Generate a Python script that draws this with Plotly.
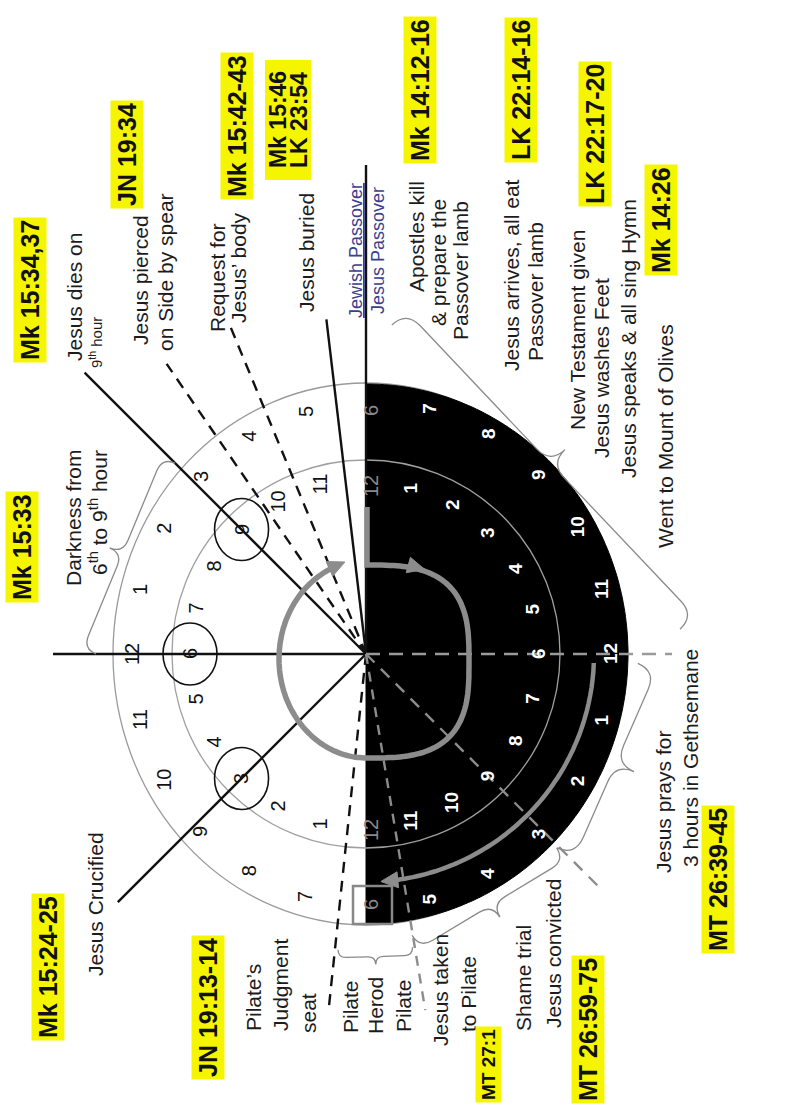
import numpy as np
import plotly.graph_objects as go

# ---------------- data ----------------
# hour numbers on each half ring, listed from the top of the dial (step 0) to its bottom (step 12)
day_inner_hours = [12, 11, 10, 9, 8, 7, 6, 5, 4, 3, 2, 1, 12]
day_outer_hours = [6, 5, 4, 3, 2, 1, 12, 11, 10, 9, 8, 7, 6]
night_inner_hours = [12, 1, 2, 3, 4, 5, 6, 7, 8, 9, 10, 11, 12]
night_outer_hours = [6, 7, 8, 9, 10, 11, 12, 1, 2, 3, 4, 5, 6]
circled_day_steps = [3, 6, 9]          # 9th, 6th and 3rd hour (inner day ring)

# event rays: side of dial (L = day, R = night) and position in hour steps from the top
ray_names = ["dies", "pierced", "request", "buried", "passover", "darkness",
             "crucified", "judgment", "taken", "gethsemane", "prays"]
ray_sides = ["L", "L", "L", "L", "L", "L", "L", "L", "R", "R", "R"]
ray_steps = [3, 2.3, 1.5, 0.45, 0, 6, 9, 11.6, 11.37, 6, 9]

# braces: (side of start, step of start, side of end, step of end)
brace_spans = [("L", 6, "L", 3), ("R", 0.3, "R", 5.7), ("R", 6.13, "R", 9.03),
               ("R", 9.03, "R", 11.38), ("L", 11.64, "R", 11.4)]

caption_lines = ["Jesus dies on", "9<sup>th</sup> hour", "Jesus pierced", "on Side by spear",
                 "Request for", "Jesus’ body", "Jesus buried", "Apostles kill",
                 "& prepare the", "Passover lamb", "Jesus arrives, all eat", "Passover lamb",
                 "New Testament given", "Jesus washes Feet", "Jesus speaks & all sing Hymn",
                 "Went to Mount of Olives", "Darkness from", "6<sup>th</sup> to 9<sup>th</sup> hour",
                 "Jesus Crucified", "Pilate’s", "Judgment", "seat", "Pilate", "Herod", "Pilate",
                 "Jesus taken", "to Pilate", "Shame trial", "Jesus convicted",
                 "Jesus prays for", "3 hours in Gethsemane"]
passover_lines = ["<u>Jewish Passover</u>", "Jesus Passover"]
refs = ["Mk 15:34,37", "JN 19:34", "Mk 15:42-43", "Mk 15:46", "LK 23:54", "Mk 14:12-16",
        "LK 22:14-16", "LK 22:17-20", "Mk 14:26", "Mk 15:33", "Mk 15:24-25", "JN 19:13-14",
        "MT 27:1", "MT 26:59-75", "MT 26:39-45"]

# ---------------- layout / style ----------------
W, H = 791, 1120
cx, cy = 366, 654
FONT = "Liberation Sans, Arial, sans-serif"

ray_len = [398, 352, 356, 337, 489, 313, 351, 361, 361, 306, 332]
ray_style = [("solid", "#111"), ("11px,8px", "#111"), ("11px,8px", "#111"), ("solid", "#111"),
             ("solid", "#111"), ("solid", "#111"), ("solid", "#111"), ("11px,8px", "#111"),
             ("10px,8px", "#8c8c8c"), ("14px,9px", "#9a9a9a"), ("12px,9px", "#8c8c8c")]
brace_r = [(270, 270), (330, 315), (272, 272), (272, 285), (297, 297)]
brace_depth = [28, 40, 40, 30, 16]

caption_xy = [(74, 297), (95, 343), (140, 280), (165, 272), (217, 278), (238, 268), (306, 253),
              (416, 237), (438, 263), (460, 271), (511, 275), (535, 292), (577, 330), (601, 368),
              (628, 339), (665, 436), (73, 518), (98, 513), (95, 904), (253, 998), (280, 985),
              (308, 1013), (350, 1007), (375, 1006), (403, 1006), (440, 990), (468, 994),
              (523, 978), (553, 954), (663, 802), (690, 758)]
caption_size = [21, 15] + [21] * 29
passover_xy = [(356, 251), (378, 251)]
ref_xy = [(30, 290), (127, 155), (237, 126), (278, 120), (299, 120), (420, 90), (521, 90),
          (595, 134), (661, 220), (22, 547), (48, 967), (208, 1008), (488, 1065), (588, 1030),
          (718, 880)]


def pos(side, step, rx, ry=None):
    ry = rx if ry is None else ry
    th = np.radians(step * 15.0)
    s = -1.0 if side == "L" else 1.0
    return cx + s * rx * np.sin(th), cy - ry * np.cos(th)


def poly_path(xs, ys, close=False):
    p = "M %.1f,%.1f " % (xs[0], ys[0]) + " ".join("L %.1f,%.1f" % (x, y) for x, y in zip(xs[1:], ys[1:]))
    return p + (" Z" if close else "")


def brace_path(p1, p2, depth):
    p1, p2 = np.array(p1, float), np.array(p2, float)
    d = p2 - p1
    L = np.linalg.norm(d)
    u = d / L
    n = np.array([-u[1], u[0]])
    mid = (p1 + p2) / 2
    if np.dot(n, mid - np.array([cx, cy])) < 0:
        n = -n
    q = depth / 2.0
    P = lambda v: "%.1f,%.1f" % (v[0], v[1])
    return ("M " + P(p1) + " Q " + P(p1 + n * q) + " " + P(p1 + n * q + u * q) +
            " L " + P(mid + n * q - u * q) + " Q " + P(mid + n * q) + " " + P(mid + n * 2 * q) +
            " Q " + P(mid + n * q) + " " + P(mid + n * q + u * q) +
            " L " + P(p2 + n * q - u * q) + " Q " + P(p2 + n * q) + " " + P(p2))


def arrow_head(tip, direction, length=17, half=8):
    d = np.array(direction, float)
    d = d / np.linalg.norm(d)
    n = np.array([-d[1], d[0]])
    t = np.array(tip, float)
    b = t - d * length
    a1, a2 = b + n * half, b - n * half
    return "M %.1f,%.1f L %.1f,%.1f L %.1f,%.1f Z" % (t[0], t[1], a1[0], a1[1], a2[0], a2[1])


shapes = []
annotations = []
GRAY = "#8c8c8c"

# outer day ring and inner ring outlines
shapes.append(dict(type="circle", x0=cx - 253, x1=cx + 253, y0=cy - 271, y1=cy + 271,
                   line=dict(color="#9a9a9a", width=1.3)))
# night half (black)
th = np.radians(np.linspace(0, 180, 181))
bx = cx + 262 * np.sin(th)
by = cy - 270 * np.cos(th)
shapes.append(dict(type="path", path=poly_path(bx, by, close=True), fillcolor="#000",
                   line=dict(color="#000", width=1)))
shapes.append(dict(type="circle", x0=cx - 194, x1=cx + 194, y0=cy - 194, y1=cy + 194,
                   line=dict(color="#a0a0a0", width=1.3)))

# rays
for side, step, ln, (dash, col) in zip(ray_sides, ray_steps, ray_len, ray_style):
    x1, y1 = pos(side, step, ln)
    shapes.append(dict(type="line", x0=cx, y0=cy, x1=x1, y1=y1,
                       line=dict(color=col, width=2.4, dash=dash)))

# braces
for (s1, st1, s2, st2), (r1, r2), dep in zip(brace_spans, brace_r, brace_depth):
    shapes.append(dict(type="path", path=brace_path(pos(s1, st1, r1), pos(s2, st2, r2), dep),
                       line=dict(color="#8a8a8a", width=1.3)))

# thick grey loop (the journey around the centre)
t = np.linspace(0, np.pi, 120)
sx = 102 * np.sign(np.sin(t)) * np.abs(np.sin(t)) ** (2 / 3.0)
sy = 7.5 - 96.5 * np.sign(np.cos(t)) * np.abs(np.cos(t)) ** (2 / 3.0)
t2 = np.radians(np.linspace(180, 20, 100))
lx = -88 * np.sin(t2)
ly = 5 - 99 * np.cos(t2)
loop_x = np.concatenate([[0, 0], sx, lx]) + cx + 1
loop_y = np.concatenate([[-147, -89], sy, ly]) + cy
shapes.append(dict(type="path", path=poly_path(loop_x, loop_y), line=dict(color=GRAY, width=5.5)))
k = np.argmin(np.abs(sx[:40] - 52))
shapes.append(dict(type="path", path=arrow_head((cx + 1 + sx[k] + 6, cy + sy[k]), (sx[k + 1] - sx[k - 1], sy[k + 1] - sy[k - 1])),
                   fillcolor=GRAY, line=dict(color=GRAY, width=1)))
shapes.append(dict(type="path", path=arrow_head((loop_x[-1] + 8, loop_y[-1] - 4), (lx[-1] - lx[-3], ly[-1] - ly[-3])),
                   fillcolor=GRAY, line=dict(color=GRAY, width=1)))

# grey night arc (Gethsemane to trial)
st = np.linspace(6.15, 11.55, 80)
ax_, ay_ = pos("R", st, 228)
shapes.append(dict(type="path", path=poly_path(ax_, ay_), line=dict(color=GRAY, width=4.5)))
tipx, tipy = pos("R", 11.75, 228)
shapes.append(dict(type="path", path=arrow_head((tipx, tipy), (tipx - ax_[-2], tipy - ay_[-2])),
                   fillcolor=GRAY, line=dict(color=GRAY, width=1)))

# circles round the 9th, 6th, 3rd hours
for s in circled_day_steps:
    x, y = pos("L", s, 176)
    shapes.append(dict(type="circle", x0=x - 27, x1=x + 27, y0=y - 31, y1=y + 31,
                       line=dict(color="#111", width=1.6)))
# box round the bottom 6
bx6, by6 = pos("R", 12, 251)
shapes.append(dict(type="rect", x0=bx6 - 13, x1=bx6 + 26, y0=by6 - 19, y1=by6 + 19,
                   line=dict(color="#888", width=2.5)))
# highlight behind double reference
shapes.append(dict(type="rect", x0=265, x1=311, y0=60, y1=180, fillcolor="#f5f500",
                   line=dict(width=0), layer="below"))


def hour_label(x, y, txt, color, size=20, bold=False):
    annotations.append(dict(x=x, y=y, text=("<b>%s</b>" % txt) if bold else str(txt), showarrow=False,
                            textangle=-90, font=dict(family=FONT, size=size, color=color),
                            xanchor="center", yanchor="middle"))


for i in range(1, 12):
    hour_label(*pos("L", i, 176), day_inner_hours[i], "#111")
    hour_label(*pos("L", i, 234, 251), day_outer_hours[i], "#111")
    hour_label(*pos("R", i, 172), night_inner_hours[i], "#fff", 19, True)
    hour_label(*pos("R", i, 244, 254), night_outer_hours[i], "#fff", 19, True)
for i, (r, hrs) in enumerate([(176, day_inner_hours), (251, day_outer_hours)]):
    for step in (0, 12):
        x, y = pos("R", step, r - 8 if step == 0 else r)
        hour_label(x + 5, y, hrs[step], "#8a8a8a")

# captions
for txt, (x, y), fs in zip(caption_lines, caption_xy, caption_size):
    annotations.append(dict(x=x, y=y, text=txt, showarrow=False, textangle=-90,
                            font=dict(family=FONT, size=fs, color="#1c1c1c"),
                            xanchor="center", yanchor="middle"))
for txt, (x, y) in zip(passover_lines, passover_xy):
    annotations.append(dict(x=x, y=y, text=txt, showarrow=False, textangle=-90,
                            font=dict(family=FONT, size=18, color="#3a3f8f"),
                            xanchor="center", yanchor="middle"))
# scripture references
for txt, (x, y) in zip(refs, ref_xy):
    small = txt == "MT 27:1"
    two = txt in ("Mk 15:46", "LK 23:54")
    annotations.append(dict(x=x, y=y, text="<b>%s</b>" % txt, showarrow=False, textangle=-90,
                            font=dict(family=FONT, size=19 if small else (23 if two else 25), color="#111"),
                            bgcolor=None if two else "#f5f500", borderpad=2,
                            xanchor="center", yanchor="middle"))

fig = go.Figure()
fig.add_trace(go.Scatter(x=[cx], y=[cy], mode="markers", marker=dict(size=1, color="rgba(0,0,0,0)"),
                         hoverinfo="skip", showlegend=False))
fig.update_layout(width=W, height=H, margin=dict(l=0, r=0, t=0, b=0),
                  paper_bgcolor="white", plot_bgcolor="white",
                  xaxis=dict(range=[0, W], visible=False, fixedrange=True),
                  yaxis=dict(range=[H, 0], visible=False, fixedrange=True),
                  shapes=shapes, annotations=annotations, showlegend=False)
fig.write_html("out.html", config={"displayModeBar": False},
               post_script="document.body.style.margin='0';document.body.style.overflow='hidden';")
